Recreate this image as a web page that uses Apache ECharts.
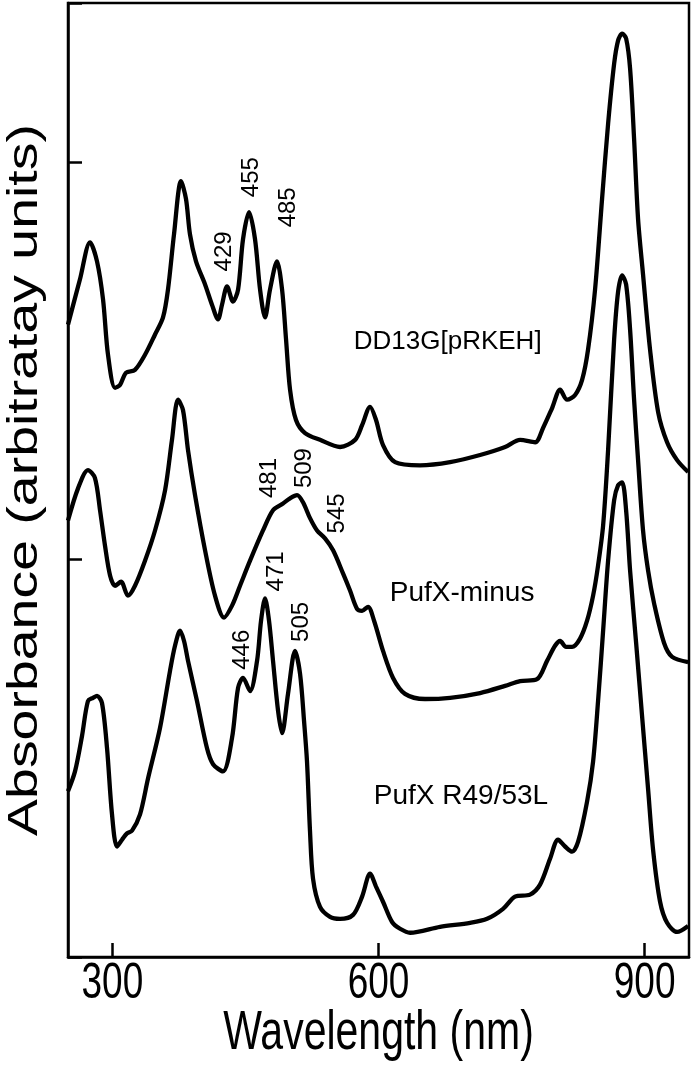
<!DOCTYPE html>
<html>
<head>
<meta charset="utf-8">
<script src="https://cdn.jsdelivr.net/npm/echarts@6/dist/echarts.min.js"></script>
<style>
html,body{margin:0;padding:0;background:#fff;}
#chart{width:694px;height:1070px;}
</style>
</head>
<body>
<div id="chart"></div>
<script>
// ---- data (wavelength in nm, absorbance in arbitrary units, curves offset vertically) ----
const xTicks = [300, 600, 900];
const xTitle = 'Wavelength (nm)';
const yTitle = 'Absorbance (arbitratay units)';

const wlDD13G = [250,263.5,274.8,282.7,289.5,295.1,303,308.6,315.4,325.5,336.8,348.1,357.1,362.7,369.5,377.4,383,387.5,394.3,404.5,412.3,419.1,423.6,429.3,436,441.7,447.3,454.1,460.8,466.5,472.1,477.7,485.6,491.3,495.8,500.3,507,517.2,534.1,556.7,573.6,581.5,590.5,597.2,605.1,618.7,646.8,680.7,714.5,742.7,759.6,776.5,785.5,795.7,804.7,812.6,821.6,829.5,836.2,844.1,852,858.8,865.6,870.1,874.6,879.1,883.6,888.1,892.6,898.2,906.1,915.2,925.3,936.6,949];
const absDD13G = [1.591,1.705,1.798,1.750,1.654,1.515,1.432,1.439,1.470,1.477,1.515,1.566,1.609,1.679,1.818,1.952,1.907,1.818,1.750,1.692,1.641,1.604,1.641,1.687,1.649,1.679,1.806,1.874,1.806,1.679,1.609,1.679,1.750,1.679,1.553,1.427,1.351,1.318,1.301,1.283,1.301,1.338,1.384,1.351,1.288,1.245,1.237,1.245,1.263,1.283,1.301,1.295,1.331,1.381,1.427,1.402,1.414,1.452,1.528,1.679,1.907,2.096,2.247,2.306,2.323,2.311,2.235,2.058,1.856,1.717,1.528,1.371,1.295,1.250,1.220];

const wlPufXminus = [250,261.3,272.5,280.4,286.1,291.7,297.4,303,309.8,317.6,325.5,336.8,348.1,359.4,367.2,374,379.6,385.3,393.2,404.5,415.7,425.9,434.9,443.9,455.2,469.8,481.1,492.4,500.3,508.2,514.9,522.8,530.7,539.7,548.8,560,567.9,575.8,581.5,588.2,595,605.1,616.4,629.9,652.5,680.7,714.5,742.7,759.6,778.7,790,799,804.7,811.4,818.2,827.2,835.1,841.9,847.5,853.2,858.8,865.6,870.1,874.6,879.1,883.6,888.1,892.6,898.2,903.9,910.7,921.9,931,949];
const absPufXminus = [1.098,1.179,1.225,1.205,1.124,1.035,0.960,0.934,0.944,0.909,0.934,0.997,1.073,1.174,1.301,1.402,1.376,1.275,1.162,1.023,0.909,0.854,0.884,0.934,0.997,1.073,1.124,1.141,1.154,1.162,1.144,1.104,1.073,1.053,1.023,0.965,0.922,0.876,0.871,0.881,0.846,0.770,0.702,0.662,0.649,0.652,0.664,0.682,0.694,0.699,0.745,0.783,0.795,0.780,0.780,0.801,0.846,0.909,0.985,1.086,1.275,1.553,1.674,1.715,1.692,1.578,1.402,1.250,1.073,0.972,0.889,0.790,0.755,0.742];

const wlR4953L = [250,257.9,265.8,272.5,278.2,282.7,288.3,294,299.6,305.2,310.9,316.5,322.2,331.2,340.2,353.7,365,370.6,376.3,380.8,385.3,395.4,406.7,413.5,424.7,434.9,441.7,447.3,455.2,463.1,467.6,472.1,476.6,481.1,486.8,491.3,498,505.9,511.6,516.1,519.4,522.8,526.2,534.1,545.4,556.7,571.3,581.5,590.5,597.2,605.1,615.3,624.3,635.6,669.4,703.2,722.4,740.4,753.9,770.8,782.1,793.4,802.4,810.3,818.2,825,835.1,841.9,847.5,853.2,858.8,865.6,870.1,874.6,879.1,883.6,890.4,897.1,903.9,909.5,917.4,925.3,936.6,949];
const absR4953L = [0.417,0.467,0.556,0.644,0.652,0.657,0.639,0.525,0.359,0.278,0.295,0.311,0.318,0.359,0.449,0.576,0.720,0.783,0.821,0.795,0.745,0.644,0.525,0.485,0.467,0.551,0.677,0.702,0.669,0.745,0.846,0.902,0.846,0.745,0.619,0.563,0.662,0.770,0.712,0.593,0.492,0.316,0.197,0.126,0.101,0.096,0.106,0.152,0.210,0.177,0.139,0.088,0.071,0.061,0.076,0.086,0.096,0.121,0.152,0.157,0.182,0.247,0.295,0.278,0.265,0.290,0.391,0.492,0.644,0.821,0.997,1.149,1.187,1.194,1.124,0.972,0.790,0.606,0.422,0.270,0.139,0.086,0.063,0.078];

// peak annotations: text, wavelength anchor, absorbance anchor
const peakLabels = ['429','455','485','481','509','545','471','446','505'];
const peakX = [425.9,456.3,498.0,476.6,516.1,553.3,484.5,446.2,512.7];
const peakY = [1.775,1.962,1.886,1.205,1.230,1.116,0.970,0.773,0.843];

// sample names
const sampleNames = ['DD13G[pRKEH]','PufX-minus','PufX R49/53L'];
const sampleX = [678,694.2,693];
const sampleY = [1.548,0.914,0.404];

const FONT = 'Liberation Sans, Arial, Helvetica, sans-serif';

function zip(a,b){ return a.map((v,i)=>[v,b[i]]); }

const chart = echarts.init(document.getElementById('chart'), null, {renderer:'canvas'});

const lineStyle = {color:'#000', width:4.3};

const annData = [];
peakLabels.forEach((t,i)=>annData.push({
  coord:[peakX[i],peakY[i]], value:t,
  label:{show:true, formatter:t, rotate:90, fontSize:24, color:'#000', fontFamily:FONT, position:'inside'}
}));
sampleNames.forEach((t,i)=>annData.push({
  coord:[sampleX[i],sampleY[i]], value:t,
  label:{show:true, formatter:t, fontSize:i===0?26:28, color:'#000', fontFamily:FONT, position:'inside'}
}));

const option = {
  animation:false,
  backgroundColor:'#fff',
  grid:{left:68, right:5, top:3, bottom:113, show:true, borderColor:'#000', borderWidth:2.5,
        containLabel:false, outerBoundsMode:'none'},
  xAxis:{
    type:'value', min:250, max:950,
    axisLine:{show:true, lineStyle:{color:'#000', width:2.5}},
    axisTick:{show:true, inside:true, length:14, lineStyle:{color:'#000', width:2.5}, customValues:xTicks},
    axisLabel:{show:false},
    splitLine:{show:false}
  },
  yAxis:{
    type:'value', min:0, max:2.4, interval:1,
    axisLine:{show:true, lineStyle:{color:'#000', width:2.5}},
    axisTick:{show:true, inside:true, length:14, lineStyle:{color:'#000', width:2.5}},
    axisLabel:{show:false},
    splitLine:{show:false}
  },
  series:[
    {type:'line', name:sampleNames[0], data:zip(wlDD13G,absDD13G), showSymbol:false, smooth:0.3, lineStyle, silent:true,
     markPoint:{symbol:'circle', symbolSize:0, data:annData, silent:true}},
    {type:'line', name:sampleNames[1], data:zip(wlPufXminus,absPufXminus), showSymbol:false, smooth:0.3, lineStyle, silent:true},
    {type:'line', name:sampleNames[2], data:zip(wlR4953L,absR4953L), showSymbol:false, smooth:0.3, lineStyle, silent:true}
  ]
};
chart.setOption(option);

// axis tick labels and titles: vertically stretched text, placed through the axis scales
const g = [];
xTicks.forEach(v=>{
  const px = chart.convertToPixel({xAxisIndex:0}, v);
  g.push({type:'text', x:px, y:984, scaleX:1, scaleY:1.35, silent:true,
    style:{text:String(v), fontSize:37, fontFamily:FONT, fill:'#000', align:'center', verticalAlign:'middle'}});
});
const xMid = chart.convertToPixel({xAxisIndex:0}, 600);
g.push({type:'text', x:xMid, y:1034, scaleX:1, scaleY:1.36, silent:true,
  style:{text:xTitle, fontSize:41, fontFamily:FONT, fill:'#000', align:'center', verticalAlign:'middle'}});
const yMid = chart.convertToPixel({yAxisIndex:0}, 1.2);
g.push({type:'text', x:25, y:yMid, rotation:Math.PI/2, scaleX:1.26, scaleY:0.97, silent:true,
  style:{text:yTitle, fontSize:44, fontFamily:FONT, fill:'#000', align:'center', verticalAlign:'middle'}});
chart.setOption({graphic:g});
</script>
</body>
</html>
